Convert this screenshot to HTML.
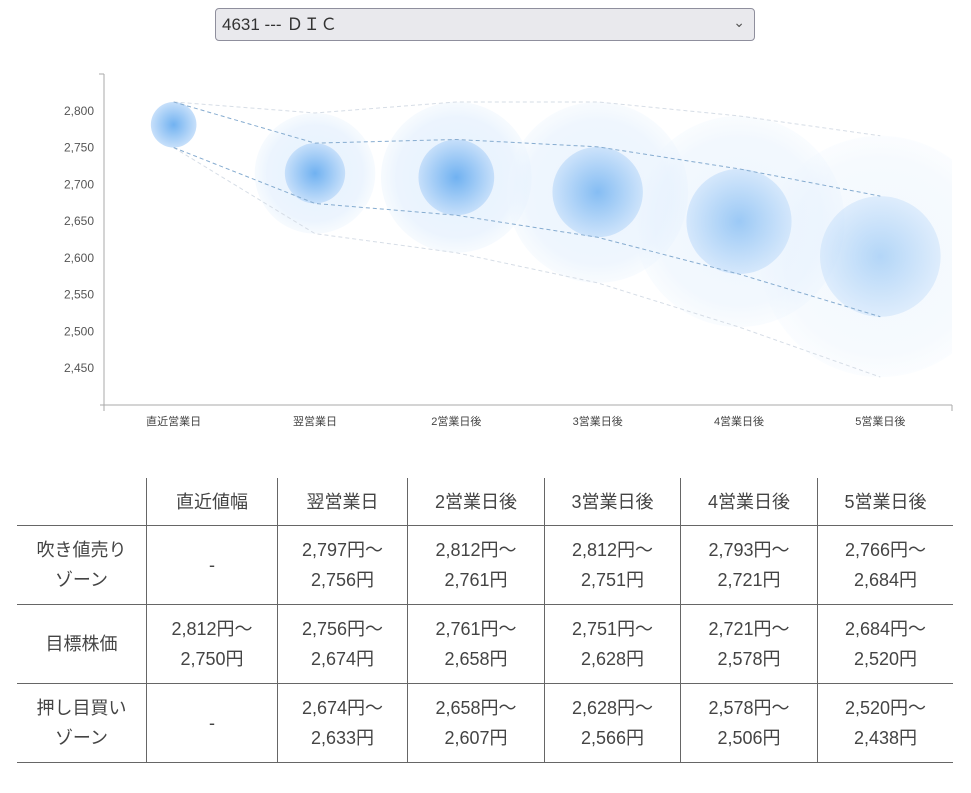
<!DOCTYPE html>
<html><head><meta charset="utf-8">
<style>
body{margin:0;background:#fff;width:971px;height:793px;overflow:hidden;font-family:"Liberation Sans","Noto Sans CJK JP",sans-serif;color:#444;}
.sel{position:absolute;left:215px;top:8px;width:540px;height:33px;background:#e9e9ed;border:1px solid #8f8f9d;border-radius:4px;box-sizing:border-box;font-size:17px;line-height:31px;padding-left:6px;color:#333;}
.sel .arr{position:absolute;right:9px;top:-2px;font-size:14px;color:#555;}
svg{position:absolute;left:0;top:0;}
table{position:absolute;left:17px;top:478px;border-collapse:collapse;font-size:18px;color:#444;}
td{text-align:center;border-left:1px solid #666;border-bottom:1px solid #666;line-height:30px;padding:0;}
td:first-child{border-left:none;}
tr.h td{height:47px;}
tr.r td{height:78px;}
</style></head><body>
<div class="sel">4631 --- ＤＩＣ<span class="arr">&#8964;</span></div>
<svg id="chart" width="971" height="450">
<defs>
<radialGradient id="gIn"><stop offset="0" stop-color="#6aaef0"/><stop offset="1" stop-color="#c4defa"/></radialGradient>
<radialGradient id="gOut"><stop offset="0" stop-color="#d6e9fc" stop-opacity="0.6"/><stop offset="0.8" stop-color="#e4f0fd" stop-opacity="0.7"/><stop offset="1" stop-color="#eef6fe" stop-opacity="0.5"/></radialGradient>
<clipPath id="plot"><rect x="104" y="60" width="848" height="345"/></clipPath>
</defs>
<g id="marks" clip-path="url(#plot)"></g>
<g id="axes"></g>
</svg>
<table>
<tr class="h"><td style="width:129px"></td><td style="width:130px">直近値幅</td><td style="width:129px">翌営業日</td><td style="width:136px">2営業日後</td><td style="width:135px">3営業日後</td><td style="width:136px">4営業日後</td><td style="width:135px">5営業日後</td></tr>
<tr class="r"><td>吹き値売り<br>ゾーン</td><td>-</td><td>2,797円～<br>2,756円</td><td>2,812円～<br>2,761円</td><td>2,812円～<br>2,751円</td><td>2,793円～<br>2,721円</td><td>2,766円～<br>2,684円</td></tr>
<tr class="r"><td>目標株価</td><td>2,812円～<br>2,750円</td><td>2,756円～<br>2,674円</td><td>2,761円～<br>2,658円</td><td>2,751円～<br>2,628円</td><td>2,721円～<br>2,578円</td><td>2,684円～<br>2,520円</td></tr>
<tr class="r"><td>押し目買い<br>ゾーン</td><td>-</td><td>2,674円～<br>2,633円</td><td>2,658円～<br>2,607円</td><td>2,628円～<br>2,566円</td><td>2,578円～<br>2,506円</td><td>2,520円～<br>2,438円</td></tr>
</table>
<script>
const categories=["直近営業日","翌営業日","2営業日後","3営業日後","4営業日後","5営業日後"];
const targetHigh=[2812,2756,2761,2751,2721,2684];
const targetLow=[2750,2674,2658,2628,2578,2520];
const outerHigh=[2812,2797,2812,2812,2793,2766];
const outerLow=[2750,2633,2607,2566,2506,2438];
const yTicks=[2450,2500,2550,2600,2650,2700,2750,2800];
const NS="http://www.w3.org/2000/svg";
const X0=104,X1=952,Y0=405,Y1=74,VMIN=2400,VMAX=2850;
const bw=(X1-X0)/categories.length;
function x(i){return X0+bw*(i+0.5)-1;}
function y(v){return Y0-(v-VMIN)/(VMAX-VMIN)*(Y0-Y1);}
function mk(t,a,p){const e=document.createElementNS(NS,t);for(const k in a)e.setAttribute(k,a[k]);p.appendChild(e);return e;}
const marks=document.getElementById('marks'),axes=document.getElementById('axes');
const fade=i=>Math.max(0.45,1-Math.max(0,i-2)*0.17);
for(let i=1;i<categories.length;i++){
  const c=mk('circle',{cx:x(i),cy:(y(outerHigh[i])+y(outerLow[i]))/2,r:(y(outerLow[i])-y(outerHigh[i]))/2,fill:'url(#gOut)',opacity:fade(i)},marks);
  
  
}
for(let i=0;i<categories.length;i++){
  const c=mk('circle',{cx:x(i),cy:(y(targetHigh[i])+y(targetLow[i]))/2,r:(y(targetLow[i])-y(targetHigh[i]))/2,fill:'url(#gIn)',opacity:fade(i)*0.95},marks);
  
  
}
function line(arr,col,nm){
  const p=mk('polyline',{points:arr.map((v,i)=>x(i)+','+y(v)).join(' '),fill:'none',stroke:col,'stroke-width':1,'stroke-dasharray':'4,3'},marks);
  
  
}
line(outerHigh,'#d6dde6','outer-high-line');
line(outerLow,'#d6dde6','outer-low-line');
line(targetHigh,'#86acd0','target-high-line');
line(targetLow,'#86acd0','target-low-line');
mk('line',{x1:X0,y1:Y1,x2:X0,y2:Y0+6,stroke:'#aaa'},axes);
mk('line',{x1:X0-5,y1:Y1,x2:X0,y2:Y1,stroke:'#aaa'},axes);
mk('line',{x1:X0-4,y1:Y0,x2:X1,y2:Y0,stroke:'#aaa'},axes);
mk('line',{x1:X1,y1:Y0,x2:X1,y2:Y0+6,stroke:'#aaa'},axes);
yTicks.forEach(v=>{
  const t=mk('text',{x:94,y:y(v)+4,'text-anchor':'end','font-size':12,fill:'#555','font-family':'Liberation Sans, sans-serif'},axes);
  t.textContent=v.toLocaleString('en-US');
  
  
});
categories.forEach((c,i)=>{
  const t=mk('text',{x:x(i),y:425,'text-anchor':'middle','font-size':11,fill:'#444','font-family':'Liberation Sans, Noto Sans CJK JP, sans-serif'},axes);
  t.textContent=c;
  
  
});
</script>
</body></html>
